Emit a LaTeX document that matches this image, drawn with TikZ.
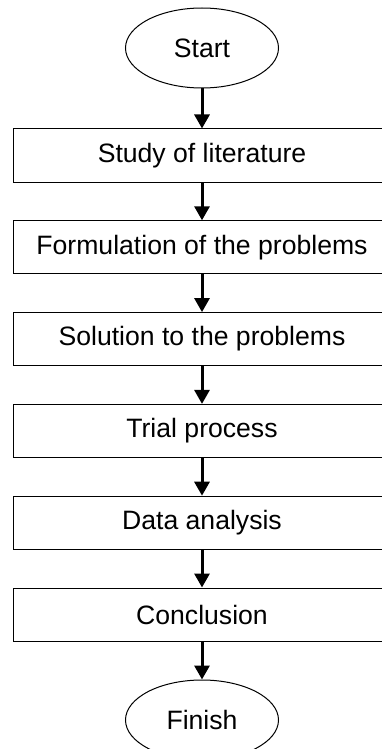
\documentclass[tikz,border=0pt]{standalone}
\usepackage{fontspec}
\setmainfont{Liberation Sans}
\usetikzlibrary{shapes.geometric,arrows.meta}

\begin{document}
\begin{tikzpicture}[x=1pt, y=1pt]
			\useasboundingbox (0,0) rectangle (382,-749);

			\begin{scope}[every node/.style={draw, line width=1pt, font=\fontsize{26.6}{32}\selectfont, inner sep=0pt}]
				\node[ellipse, minimum width=153pt, minimum height=80pt] (start) at (202,-48) {Start};
				\node[rectangle, minimum width=378pt, minimum height=53pt] (lit) at (202,-155.5) {Study of literature};
				\node[rectangle, minimum width=378pt, minimum height=53pt] (form) at (202,-247.3) {Formulation of the problems};
				\node[rectangle, minimum width=378pt, minimum height=53pt] (sol) at (202,-339.1) {Solution to the problems};
				\node[rectangle, minimum width=378pt, minimum height=53pt] (trial) at (202,-430.9) {Trial process};
				\node[rectangle, minimum width=378pt, minimum height=53pt] (data) at (202,-522.7) {Data analysis};
				\node[rectangle, minimum width=378pt, minimum height=53pt] (concl) at (202,-614.5) {Conclusion};
				\node[ellipse, minimum width=153pt, minimum height=80pt] (finish) at (202,-720) {Finish};
			\end{scope}

			\begin{scope}[line width=3pt, -{Triangle[width=15pt, length=14pt]}]
				\draw (start) -- (lit);
				\draw (lit) -- (form);
				\draw (form) -- (sol);
				\draw (sol) -- (trial);
				\draw (trial) -- (data);
				\draw (data) -- (concl);
				\draw (concl) -- (finish);
			\end{scope}
		\end{tikzpicture}
\end{document}
